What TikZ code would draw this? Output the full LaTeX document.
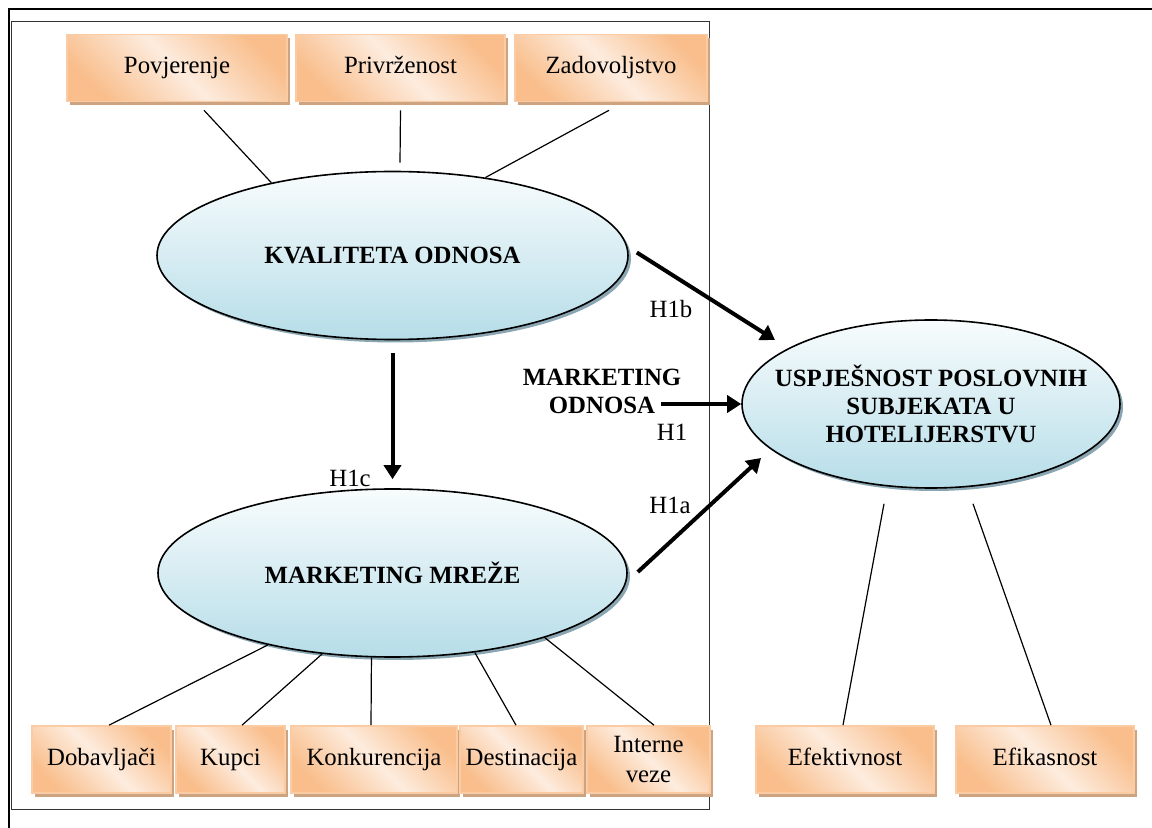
\documentclass[tikz,border=0pt]{standalone}
\usepackage{fontspec}
\setmainfont{Liberation Serif}
\usepackage{tikz}
\usetikzlibrary{arrows.meta,calc,shadows,shapes.geometric}

\definecolor{boxdark}{RGB}{249,190,140}
\definecolor{boxlight}{RGB}{253,236,222}
\definecolor{boxedge}{RGB}{251,204,164}
\definecolor{boxshadow}{RGB}{204,164,130}
\definecolor{elltop}{RGB}{248,252,253}
\definecolor{ellbot}{RGB}{182,221,232}
\definecolor{ellshadow}{RGB}{138,166,178}

\tikzset{
	factor/.style={rectangle, draw=boxedge, line width=0.8pt, inner sep=1pt, align=center,
		top color=boxdark, bottom color=boxdark, middle color=boxlight, shading angle=-45,
		drop shadow={shadow xshift=1.5pt, shadow yshift=-2pt, fill=boxshadow, opacity=1},
		font=\fontsize{12.4}{15}\selectfont, text height=8.6pt, text depth=2.6pt, minimum height=33.5pt},
	construct/.style={ellipse, draw=black, line width=0.8pt, inner sep=-14pt, align=center,
		top color=elltop, bottom color=ellbot,
		drop shadow={shadow xshift=1.5pt, shadow yshift=-1.5pt, fill=ellshadow, opacity=1},
		font=\fontsize{12.4}{14}\selectfont\bfseries, minimum height=84pt},
	hyp/.style={line width=2pt, -{Triangle[length=7pt,width=8.5pt]}},
	link/.style={line width=0.6pt},
	hlabel/.style={inner sep=0pt, font=\fontsize{12.4}{14}\selectfont}
}

\begin{document}
\begin{tikzpicture}[x=0.5pt,y=-0.5pt]
				\useasboundingbox (0,0) rectangle (1152,828);
				
				\draw[line width=0.9pt] (9,828) -- (9,9) -- (1152,9);
				\draw[line width=0.5pt, black!80] (11.5,22) rectangle (709,809);
				
				\node[factor, minimum width=110pt] (povj) at (177,68) {Povjerenje};
				\node[factor, minimum width=104.5pt] (priv) at (400.5,68) {Privrženost};
				\node[factor, minimum width=96pt] (zad) at (611,68) {Zadovoljstvo};
				
				\node[construct, minimum width=235.5pt] (kval) at (392.5,255.5) {KVALITETA ODNOSA};
				\node[construct, minimum width=234.5pt] (mm) at (392.5,573) {MARKETING MREŽE};
				\node[construct, minimum width=189pt] (uspj) at (931,404) {USPJEŠNOST POSLOVNIH\\SUBJEKATA U\\HOTELIJERSTVU};
				
				\node[factor, minimum width=69.5pt] (dob) at (101.5,759.5) {Dobavljači};
				\node[factor, minimum width=54.5pt] (kup) at (230.5,759.5) {Kupci};
				\node[factor, minimum width=83pt] (kon) at (374,759.5) {Konkurencija};
				\node[factor, minimum width=61.5pt] (des) at (521.5,759.5) {Destinacija};
				\node[factor, minimum width=61.5pt, text height=, text depth=] (int) at (648.5,759.5) {Interne\\veze};
				\node[factor, minimum width=89pt] (efek) at (845,759.5) {Efektivnost};
				\node[factor, minimum width=89pt] (efik) at (1045,759.5) {Efikasnost};
				
				\node[hlabel, font=\fontsize{12.4}{14}\selectfont\bfseries, align=center] (mo) at (602,391) {MARKETING\\ODNOSA};
				\node[hlabel] (h1b) at (671,309) {H1b};
				\node[hlabel] (h1) at (672,432) {H1};
				\node[hlabel] (h1a) at (670,505) {H1a};
				\node[hlabel] (h1c) at (350,478) {H1c};
				
				\draw[link] ($(povj.south)+(27,8)$) -- (kval.149);
				\draw[link] ($(priv.south)+(0,8)$) -- ($(kval.north)+(7.5,-8)$);
				\draw[link] ($(zad.south)+(-2,8)$) -- (kval.40);
				
				\draw[link] ($(dob.north)+(7.5,0)$) -- (mm.210);
				\draw[link] ($(kup.north)+(11.5,0)$) -- (mm.229);
				\draw[link] ($(kon.north)+(-3,0)$) -- (mm.256);
				\draw[link] ($(des.north)+(-5.5,0)$) -- (mm.316);
				\draw[link] ($(int.north)+(5.5,0)$) -- (mm.337);
				
				\draw[link] ($(efek.north)+(-2,0)$) -- ($(uspj.south)+(-47,15)$);
				\draw[link] ($(efik.north)+(6,0)$) -- ($(uspj.south)+(42,15)$);
				
				\draw[hyp] ($(kval.east)+(8,-3)$) -- ($(uspj.center)+(-156,-64)$);
				\draw[hyp] ([xshift=-40pt]uspj.west) -- (uspj.west);
				\draw[hyp] ($(mm.east)+(10,-1)$) -- ($(uspj.center)+(-170,54)$);
				\draw[hyp] ($(kval.south)+(0,13)$) -- ($(mm.north)+(0,-9)$);
			\end{tikzpicture}
\end{document}
